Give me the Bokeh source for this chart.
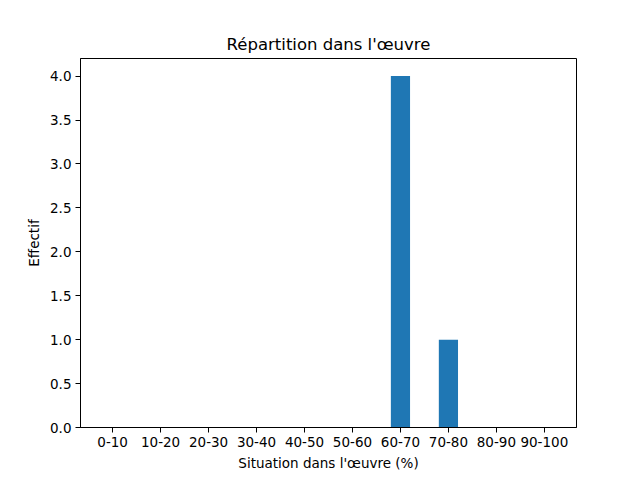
from bokeh.plotting import figure
from bokeh.models import Range1d, FixedTicker, ColumnDataSource
from bokeh.embed import file_html
from bokeh.resources import INLINE

categories = ["0-10", "10-20", "20-30", "30-40", "40-50", "50-60", "60-70", "70-80", "80-90", "90-100"]
counts = [0, 0, 0, 0, 0, 0, 4, 1, 0, 0]
y_ticks = [0.0, 0.5, 1.0, 1.5, 2.0, 2.5, 3.0, 3.5, 4.0]

positions = list(range(len(categories)))
src = ColumnDataSource(data=dict(x=positions, top=counts))

FONT = "DejaVu Sans"

p = figure(
    output_backend="svg", toolbar_location=None,
    frame_width=496, frame_height=369,
    min_border_left=80, min_border_right=64, min_border_top=58, min_border_bottom=53,
    x_range=Range1d(-0.67, 9.67), y_range=Range1d(0, 4.2),
    title="Répartition dans l'œuvre",
)
p.vbar(x="x", top="top", bottom=0, width=0.4, source=src, fill_color="#1f77b4", line_color=None)

p.title.align = "center"
p.title.text_font = FONT
p.title.text_font_size = "16.5px"
p.title.text_font_style = "normal"
p.title.text_color = "black"

p.xgrid.visible = False
p.ygrid.visible = False
p.outline_line_color = "black"
p.outline_line_width = 1
p.outline_line_alpha = 1
p.background_fill_color = "white"
p.border_fill_color = "white"

p.xaxis.ticker = FixedTicker(ticks=positions)
p.xaxis.major_label_overrides = {i: c for i, c in enumerate(categories)}
p.yaxis.ticker = FixedTicker(ticks=y_ticks)
p.yaxis.major_label_overrides = {t: f"{t:.1f}" for t in y_ticks}
p.xaxis.axis_label = "Situation dans l'œuvre (%)"
p.yaxis.axis_label = "Effectif"

for ax in (p.xaxis[0], p.yaxis[0]):
    ax.major_label_text_font = FONT
    ax.major_label_text_font_size = "13.5px"
    ax.major_label_text_color = "black"
    ax.axis_label_text_font = FONT
    ax.axis_label_text_font_size = "13.5px"
    ax.axis_label_text_font_style = "normal"
    ax.axis_label_text_color = "black"
    ax.minor_tick_line_color = None
    ax.major_tick_in = 0
    ax.major_tick_out = 5
    ax.major_tick_line_color = "black"
    ax.axis_line_color = "black"
    ax.major_label_standoff = 4
    ax.axis_label_standoff = 5

open("out.html", "w").write(file_html(p, INLINE))
